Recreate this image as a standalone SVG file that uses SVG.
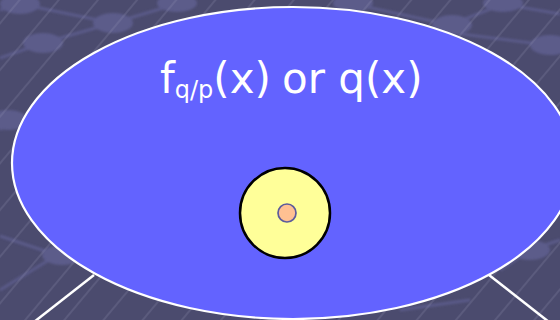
<svg xmlns="http://www.w3.org/2000/svg" width="560" height="320" viewBox="0 0 560 320">
  <defs>
    <pattern id="hatch" width="30" height="30" patternUnits="userSpaceOnUse" patternTransform="rotate(40)">
      <line x1="15" y1="0" x2="15" y2="30" stroke="#9a9abb" stroke-width="0.7" stroke-opacity="0.55"/>
    </pattern>
    <filter id="soft" x="-50%" y="-50%" width="200%" height="200%">
      <feGaussianBlur stdDeviation="1.2"/>
    </filter>
  </defs>
  <style>
    .net line { stroke: #5a5a88; stroke-width: 3; }
    .net ellipse { fill: #5b5b8a; }
    .lbl { font-family: "DejaVu Sans", Verdana, sans-serif; fill: #ffffff; }
    .link { stroke: #ffffff; stroke-width: 2.5; fill: none; }
  </style>

  <!-- background -->
  <rect x="0" y="0" width="560" height="320" fill="#4b4b6e"/>
  <g class="net" filter="url(#soft)">
    <line x1="0" y1="10" x2="20" y2="4"/>
    <line x1="20" y1="4" x2="113" y2="23"/>
    <line x1="0" y1="58" x2="43" y2="43"/>
    <line x1="43" y1="43" x2="113" y2="23"/>
    <line x1="113" y1="23" x2="177" y2="4"/>
    <line x1="0" y1="130" x2="7" y2="120"/>
    <line x1="353" y1="4" x2="450" y2="25"/>
    <line x1="450" y1="25" x2="503" y2="4"/>
    <line x1="503" y1="4" x2="560" y2="14"/>
    <line x1="430" y1="30" x2="547" y2="45"/>
    <line x1="547" y1="45" x2="560" y2="40"/>
    <line x1="0" y1="236" x2="57" y2="255"/>
    <line x1="0" y1="290" x2="57" y2="255"/>
    <line x1="500" y1="270" x2="530" y2="250"/>
    <line x1="530" y1="250" x2="560" y2="240"/>
    <line x1="400" y1="310" x2="470" y2="300"/>
    <ellipse cx="20" cy="4" rx="20" ry="10"/>
    <ellipse cx="43" cy="43" rx="20" ry="10"/>
    <ellipse cx="113" cy="23" rx="20" ry="10"/>
    <ellipse cx="177" cy="3" rx="20" ry="9"/>
    <ellipse cx="8" cy="120" rx="20" ry="10"/>
    <ellipse cx="353" cy="3" rx="20" ry="9"/>
    <ellipse cx="452" cy="25" rx="20" ry="10"/>
    <ellipse cx="503" cy="3" rx="20" ry="9"/>
    <ellipse cx="550" cy="45" rx="20" ry="10"/>
    <ellipse cx="62" cy="255" rx="20" ry="10"/>
    <ellipse cx="530" cy="250" rx="20" ry="10"/>
  </g>
  <rect x="0" y="0" width="560" height="320" fill="url(#hatch)"/>

  <!-- connectors -->
  <g id="connectors">
    <line class="link" x1="94" y1="275" x2="34" y2="322"/>
    <line class="link" x1="489" y1="275" x2="549" y2="322"/>
  </g>

  <!-- outer ellipse node -->
  <g id="region">
    <ellipse cx="293" cy="163" rx="281" ry="156" fill="#6363ff" stroke="#ffffff" stroke-width="2.2"/>
    <text class="lbl" x="160" y="93" font-size="42">f<tspan font-size="24" dy="5">q/p</tspan><tspan dy="-5">(x)</tspan><tspan x="282">or q(x)</tspan></text>
  </g>

  <!-- yellow circle node -->
  <g id="outer-circle">
    <circle cx="285" cy="213" r="45" fill="#ffff99" stroke="#000000" stroke-width="2.5"/>
  </g>

  <!-- inner point node -->
  <g id="inner-point">
    <circle cx="287" cy="213" r="9" fill="#ffc092" stroke="#5c5c9c" stroke-width="1.7"/>
  </g>
</svg>
